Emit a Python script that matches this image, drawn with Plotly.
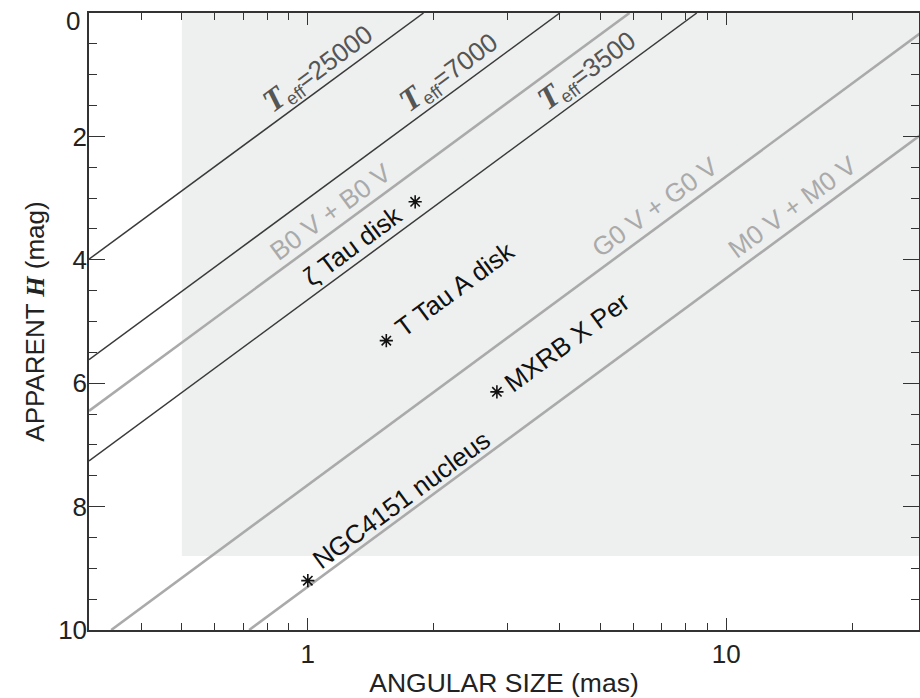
import numpy as np
import plotly.graph_objects as go

# ---- data ----
# reference lines: two end points each (angular size in mas, apparent H mag)
line_names = ["Teff=25000", "Teff=7000", "B0 V + B0 V", "Teff=3500", "G0 V + G0 V", "M0 V + M0 V"]
line_theta_a = [0.3, 0.3, 0.3, 0.3, 0.339, 0.724]
line_h_a = [3.99, 5.62, 6.45, 7.26, 10.0, 10.0]
line_theta_b = [1.89, 4.0, 5.87, 8.5, 30.0, 30.0]
line_h_b = [0.0, 0.0, 0.0, 0.0, 0.26, 1.91]
line_is_gray = [False, False, True, False, True, True]

# objects (asterisks)
obj_names = ["ζ Tau disk", "T Tau A disk", "MXRB X Per", "NGC4151 nucleus"]
obj_theta = [1.805, 1.54, 2.83, 1.0]
obj_h = [3.06, 5.31, 6.14, 9.2]

# shaded accessible region
shade_theta = [0.5, 30.0]
shade_h = [0.0, 8.8]

# axis ticks
y_tickvals = [0, 2, 4, 6, 8, 10]
y_ticktext = ["", "2", "4", "6", "8", "10"]   # "0" drawn separately, nudged inside the page
x_tickvals = [1, 10]
x_ticktext = ["1", "10"]

# text labels (center positions)
T_SPAN = '<span style="font-family:Liberation Serif;font-size:32px"><b><i>T</i></b></span><sub>eff</sub>='
lab_text = [
    T_SPAN + "25000", T_SPAN + "7000", T_SPAN + "3500",
    "B0 V + B0 V", "G0 V + G0 V", "M0 V + M0 V",
    "ζ Tau disk", "T Tau A disk", "MXRB X Per", "NGC4151 nucleus",
]
lab_theta = [1.054, 2.157, 4.62, 1.132, 6.76, 14.4, 1.278, 2.25, 4.17, 1.67]
lab_h = [0.884, 0.949, 0.916, 3.22, 3.15, 3.15, 3.77, 4.48, 5.33, 7.89]
lab_color = ["#555555", "#555555", "#555555", "#aaaaaa", "#aaaaaa", "#aaaaaa",
             "#111111", "#111111", "#111111", "#111111"]

x_range = [np.log10(0.3), 1.4604]
y_range = [10, 0]

fig = go.Figure()

# shaded region
fig.add_trace(go.Scatter(
    x=[shade_theta[0], shade_theta[1], shade_theta[1], shade_theta[0], shade_theta[0]],
    y=[shade_h[0], shade_h[0], shade_h[1], shade_h[1], shade_h[0]],
    mode="lines", fill="toself", fillcolor="#eef0ef", line=dict(width=0),
    hoverinfo="skip", showlegend=False))

for i, name in enumerate(line_names):
    fig.add_trace(go.Scatter(
        x=[line_theta_a[i], line_theta_b[i]], y=[line_h_a[i], line_h_b[i]],
        mode="lines", name=name, showlegend=False,
        line=dict(color="#aaaaaa" if line_is_gray[i] else "#3a3a3a",
                  width=2.6 if line_is_gray[i] else 1.5)))

fig.add_trace(go.Scatter(
    x=obj_theta, y=obj_h, mode="markers", showlegend=False, text=obj_names,
    marker=dict(symbol="asterisk-open", size=11, color="#111111",
                line=dict(color="#111111", width=1.6))))

# angle of lines on the page
plot_w = 920 - 89 - 1
plot_h = 698 - 13 - 68
px_per_dec = plot_w / (x_range[1] - x_range[0])
px_per_mag = plot_h / 10.0
ang = np.degrees(np.arctan(5 * px_per_mag / px_per_dec))

for t, th, hh, c in zip(lab_text, lab_theta, lab_h, lab_color):
    fig.add_annotation(x=np.log10(th), y=hh, xref="x", yref="y", text=t,
                       showarrow=False, textangle=-ang,
                       xanchor="center", yanchor="middle",
                       font=dict(family="Liberation Sans", size=26, color=c))

# top tick label "0", kept inside the page as in the reference
fig.add_annotation(x=0, xref="paper", y=y_tickvals[0], yref="y", text="0",
                   showarrow=False, xanchor="right", yanchor="middle",
                   xshift=-7, yshift=-8,
                   font=dict(family="Liberation Sans", size=26, color="#222222"))

axis_col = "#333333"
fig.update_xaxes(
    type="log", range=x_range, showgrid=False, zeroline=False, automargin=False,
    showline=True, linecolor=axis_col, linewidth=1.5, mirror="ticks",
    ticks="inside", ticklen=12, tickwidth=1.2, tickcolor=axis_col,
    tickvals=x_tickvals, ticktext=x_ticktext, ticklabeloverflow="allow",
    minor=dict(ticks="inside", ticklen=7, tickwidth=1.2, tickcolor=axis_col, dtick="D1", showgrid=False),
    tickfont=dict(family="Liberation Sans", size=26, color="#222222"),
    title=dict(text="ANGULAR SIZE (mas)", standoff=14,
               font=dict(family="Liberation Sans", size=26.5, color="#222222")))
fig.update_yaxes(
    range=y_range, showgrid=False, zeroline=False, automargin=False,
    showline=True, linecolor=axis_col, linewidth=1.5, mirror="ticks",
    ticks="inside", ticklen=16, tickwidth=1.2, tickcolor=axis_col,
    tickvals=y_tickvals, ticktext=y_ticktext, ticklabeloverflow="allow",
    ticklabelstandoff=-5,
    minor=dict(ticks="inside", ticklen=8, tickwidth=1.2, tickcolor=axis_col, dtick=0.5, showgrid=False),
    tickfont=dict(family="Liberation Sans", size=26, color="#222222"),
    title=dict(text='APPARENT <span style="font-family:Liberation Serif"><b><i>H</i></b></span> (mag)', standoff=6,
               font=dict(family="Liberation Sans", size=26, color="#222222")))

fig.update_layout(
    width=920, height=698,
    margin=dict(l=89, r=1, t=13, b=68),
    plot_bgcolor="white", paper_bgcolor="white",
    showlegend=False)

fig.write_html("out.html", config={"displayModeBar": False},
               post_script="document.body.style.margin='0';")
